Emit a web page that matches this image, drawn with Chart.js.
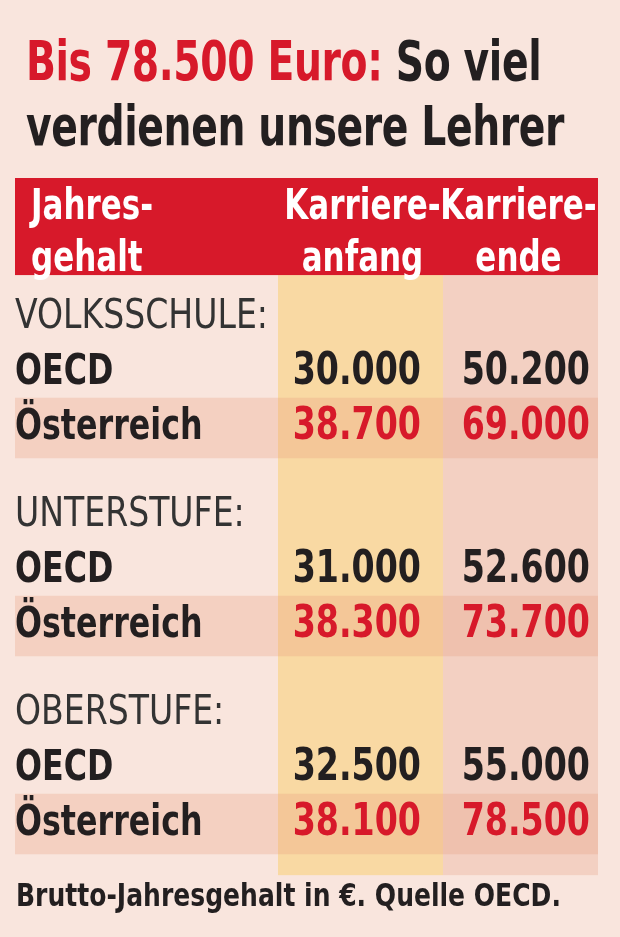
<!DOCTYPE html>
<html><head><meta charset="utf-8">
<script src="https://cdn.jsdelivr.net/npm/chart.js@4/dist/chart.umd.min.js"></script>
<style>
html,body{margin:0;padding:0;background:#f9e5dd;width:620px;height:937px;overflow:hidden}
.t{position:absolute;left:26px;font-family:'Liberation Sans Narrow','DejaVu Sans Condensed',sans-serif;font-weight:bold;font-size:56px;color:#231f20;white-space:nowrap;letter-spacing:-0.5px;transform:scaleX(0.78);transform-origin:0 0}
.f{position:absolute;left:16px;top:876px;font-family:'Liberation Sans Narrow','DejaVu Sans Condensed',sans-serif;font-weight:bold;font-size:32px;color:#231f20;white-space:nowrap;transform:scaleX(0.87);transform-origin:0 0}
#wrap{position:absolute;left:0;top:178px;width:620px;height:702px}
</style></head><body>
<div class="t" style="top:28px"><span style="color:#d7192a">Bis 78.500 Euro:</span> So viel</div>
<div class="t" style="top:93px">verdienen unsere Lehrer</div>
<div id="wrap"><canvas id="c" width="620" height="702"></canvas></div>
<div class="f">Brutto-Jahresgehalt in €. Quelle OECD.</div>
<script>
const headers = ["Jahres-\ngehalt", "Karriere-\nanfang", "Karriere-\nende"];
const groups = ["VOLKSSCHULE:", "UNTERSTUFE:", "OBERSTUFE:"];
const rowLabels = ["OECD", "Österreich"];
const anfangOECD = [30000, 31000, 32500];
const anfangAT = [38700, 38300, 38100];
const endeOECD = [50200, 52600, 55000];
const endeAT = [69000, 73700, 78500];

const GROUP_STEP = 3.6;
const fmt = v => v.toLocaleString('de-DE');
const DARK = '#231f20', RED = '#d7192a';
const FONT = "'Liberation Sans Narrow','DejaVu Sans Condensed',sans-serif";
const cols = {label: 15, c1: [278, 443], c2: [443, 598]};

function sText(ctx, t, px, py, sx) {
  ctx.save(); ctx.translate(px, py); ctx.scale(sx, 1); ctx.fillText(t, 0, 0); ctx.restore();
}

const pts = [];
groups.forEach((g, i) => {
  const base = i * GROUP_STEP;
  pts.push({x: cols.c1[1] - 22, y: base + 1, t: fmt(anfangOECD[i]), c: DARK});
  pts.push({x: cols.c1[1] - 22, y: base + 2, t: fmt(anfangAT[i]), c: RED});
  pts.push({x: cols.c2[1] - 8, y: base + 1, t: fmt(endeOECD[i]), c: DARK});
  pts.push({x: cols.c2[1] - 8, y: base + 2, t: fmt(endeAT[i]), c: RED});
});

const tablePlugin = {
  id: 'table',
  beforeDatasetsDraw(chart) {
    const {ctx, scales: {x, y}} = chart;
    const top = y.getPixelForValue(-0.78), bot = y.getPixelForValue(10.13);
    ctx.fillStyle = '#f9d9a3';
    ctx.fillRect(x.getPixelForValue(cols.c1[0]), top, cols.c1[1] - cols.c1[0], bot - top);
    ctx.fillStyle = '#f3d0c2';
    ctx.fillRect(x.getPixelForValue(cols.c2[0]), top, cols.c2[1] - cols.c2[0], bot - top);
    groups.forEach((g, i) => {
      const yc = i * GROUP_STEP + 2;
      const a = y.getPixelForValue(yc - 0.55), b = y.getPixelForValue(yc + 0.55);
      ctx.fillStyle = 'rgba(232,160,130,0.30)';
      ctx.fillRect(x.getPixelForValue(cols.label), a, cols.c2[1] - cols.label, b - a);
    });
    const ht = y.getPixelForValue(-2.545);
    ctx.fillStyle = '#d7192a';
    ctx.fillRect(x.getPixelForValue(cols.label), ht, cols.c2[1] - cols.label, top - ht);
  },
  afterDatasetsDraw(chart) {
    const {ctx, scales: {x, y}} = chart;
    ctx.textBaseline = 'middle';
    ctx.fillStyle = '#fff';
    ctx.font = `bold 42px ${FONT}`;
    const SX = 0.82;
    headers.forEach((h, i) => {
      h.split('\n').forEach((line, j) => {
        const w = ctx.measureText(line).width * SX;
        let px;
        if (i === 0) px = cols.label + 16;
        else if (i === 1) px = (cols.c1[0] + cols.c1[1]) / 2 + 2 - w / 2;
        else px = (cols.c2[0] + cols.c2[1]) / 2 - 2 - w / 2;
        ctx.textAlign = 'left';
        sText(ctx, line, x.getPixelForValue(px), y.getPixelForValue(-2.0 + j * 0.95), SX);
      });
    });
    groups.forEach((g, i) => {
      const base = i * GROUP_STEP;
      ctx.textAlign = 'left';
      ctx.fillStyle = '#333';
      ctx.font = `40px ${FONT}`;
      sText(ctx, g, x.getPixelForValue(cols.label), y.getPixelForValue(base), 0.92);
      ctx.fillStyle = DARK;
      ctx.font = `bold 43px ${FONT}`;
      rowLabels.forEach((r, j) => sText(ctx, r, x.getPixelForValue(cols.label), y.getPixelForValue(base + 1 + j), 0.82));
    });
    ctx.textAlign = 'right';
    ctx.font = `bold 44px ${FONT}`;
    chart.data.datasets[0].data.forEach(p => {
      ctx.fillStyle = p.c;
      sText(ctx, p.t, x.getPixelForValue(p.x), y.getPixelForValue(p.y), 0.84);
    });
  }
};

new Chart(document.getElementById('c'), {
  type: 'scatter',
  data: {datasets: [{data: pts, pointRadius: 0}]},
  options: {
    responsive: false, animation: false,
    layout: {padding: 0},
    plugins: {legend: {display: false}, tooltip: {enabled: false}},
    scales: {
      x: {type: 'linear', min: 0, max: 620, display: false},
      y: {type: 'linear', min: -2.545, max: 10.218, reverse: true, display: false}
    }
  },
  plugins: [tablePlugin]
});
</script>
</body></html>
